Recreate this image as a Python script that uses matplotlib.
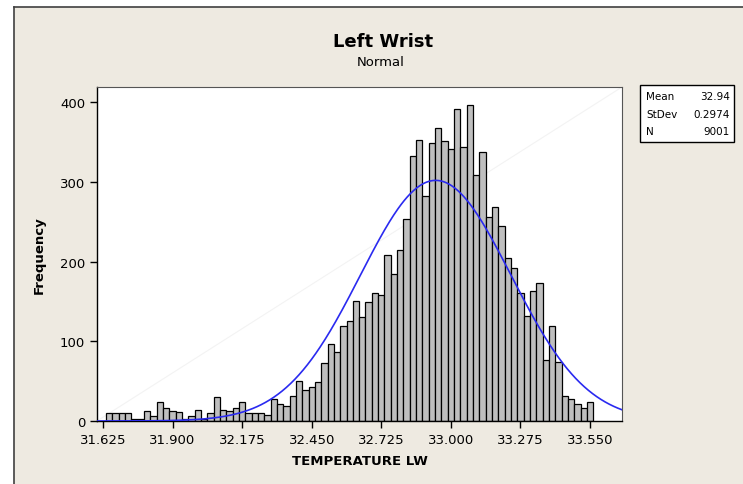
import numpy as np
import matplotlib.pyplot as plt
from matplotlib.patches import Rectangle
from matplotlib.lines import Line2D

plt.rcParams['font.family'] = 'DejaVu Sans'

# histogram of left wrist temperature, bins of 0.025 starting at 31.65
bin_width = 0.025
first_mid = 31.65
counts = [10, 10, 10, 10, 2, 2, 13, 6, 24, 16,
          13, 11, 3, 6, 14, 2, 10, 30, 14, 13,
          16, 24, 10, 10, 10, 7, 27, 21, 19, 31,
          50, 39, 43, 49, 73, 97, 87, 119, 126, 151,
          131, 149, 161, 158, 208, 184, 214, 254, 332, 352,
          282, 349, 367, 351, 341, 392, 344, 397, 308, 337,
          256, 268, 244, 204, 192, 160, 132, 163, 173, 77,
          119, 74, 31, 28, 21, 16, 24]

mean = 32.94
stdev = 0.2974
n_obs = 9001

x_ticks = [31.625, 31.900, 32.175, 32.450, 32.725, 33.000, 33.275, 33.550]
y_ticks = [0, 100, 200, 300, 400]
stat_names = ['Mean', 'StDev', 'N']
stat_values = ['32.94', '0.2974', '9001']

W, H = 743, 485
bg = '#EEEAE1'

fig = plt.figure(figsize=(W / 100, H / 100), dpi=100, facecolor='white')
# beige panel, dark border shows on left and top
fig.patches.append(Rectangle((14 / W, 0), 1, 1 - 8 / H,
                             transform=fig.transFigure, facecolor=bg,
                             edgecolor='none', zorder=-10))
fig.lines.append(Line2D([14 / W, 14 / W], [0, 1 - 8 / H], transform=fig.transFigure,
                        color='#404040', lw=1.2, zorder=-9))
fig.lines.append(Line2D([14 / W, 1], [1 - 8 / H, 1 - 8 / H], transform=fig.transFigure,
                        color='#404040', lw=1.2, zorder=-9))

ax = fig.add_axes([97 / W, 1 - 422 / H, 525 / W, 334 / H])
ax.set_zorder(5)
ax.set_facecolor('white')

mids = first_mid + bin_width * np.arange(len(counts))
ax.bar(mids, counts, width=bin_width, color='#BFBFBF', edgecolor='black',
       linewidth=0.9, zorder=2)

xmin, xmax = 31.6013, 33.6764
xs = np.linspace(xmin, xmax, 500)
ys = n_obs * bin_width * np.exp(-0.5 * ((xs - mean) / stdev) ** 2) / (stdev * np.sqrt(2 * np.pi))
ax.plot(xs, ys, color='#2A2AF0', lw=1.2, zorder=3)

# faint diagonal artefact seen in the original
ax.plot([0, 1], [0, 1], transform=ax.transAxes, color='#F3F3F3', lw=0.8, zorder=1)

ax.set_xlim(xmin, xmax)
ax.set_ylim(0, 419)
ax.set_xticks(x_ticks)
ax.set_xticklabels(['%.3f' % t for t in x_ticks])
ax.set_yticks(y_ticks)
ax.tick_params(direction='out', length=5, width=1, labelsize=9.5, colors='black')
for side in ['left', 'bottom']:
    ax.spines[side].set_linewidth(1.0)
for side in ['top', 'right']:
    ax.spines[side].set_linewidth(0.8)
    ax.spines[side].set_color('#555555')

ax.set_xlabel('TEMPERATURE LW', fontsize=9.5, fontweight='bold', labelpad=6)
ax.set_ylabel('Frequency', fontsize=9.5, fontweight='bold', labelpad=10)

fig.text(383 / W, 1 - 42 / H, 'Left Wrist', ha='center', va='center',
         fontsize=13, fontweight='bold')
fig.text(381 / W, 1 - 63 / H, 'Normal', ha='center', va='center', fontsize=9.5)

# stats box
fig.patches.append(Rectangle((640 / W, 1 - 143 / H), 94 / W, 57 / H,
                             transform=fig.transFigure, facecolor='white',
                             edgecolor='black', lw=1.0, zorder=1))
for i, (name, val) in enumerate(zip(stat_names, stat_values)):
    yy = 1 - (97 + 17.5 * i) / H
    fig.text(646 / W, yy, name, ha='left', va='center', fontsize=7.5)
    fig.text(730 / W, yy, val, ha='right', va='center', fontsize=7.5)

fig.savefig('out.png', dpi=100, facecolor=fig.get_facecolor())
